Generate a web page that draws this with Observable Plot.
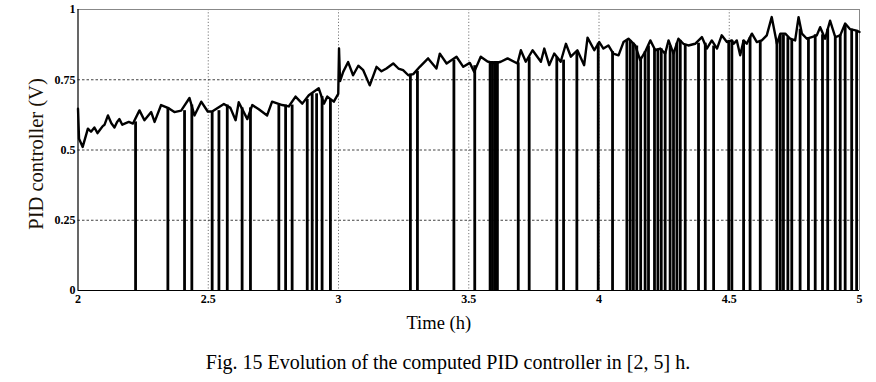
<!DOCTYPE html>
<html>
<head>
<meta charset="utf-8">
<script src="https://cdn.jsdelivr.net/npm/d3@7"></script>
<script src="https://cdn.jsdelivr.net/npm/@observablehq/plot@0.6"></script>
<style>
  html, body { margin: 0; padding: 0; background: #fff; }
  #wrap { position: relative; width: 876px; height: 382px; overflow: hidden; }
  #caption { position: absolute; left: 0; width: 876px; top: 351px; text-align: center;
    font-family: "Liberation Serif", "DejaVu Serif", serif; font-size: 20px; color: #000;
    padding-left: 20px; box-sizing: border-box; line-height: 22px; white-space: nowrap; }
</style>
</head>
<body>
<div id="wrap"><div id="chart"></div><div id="caption">Fig. 15 Evolution of the computed PID controller in [2, 5] h.</div></div>
<script>
// Baseline signal (time in h, value in V)
const baseTime = [2.000, 2.004, 2.018, 2.038, 2.050, 2.063, 2.075, 2.083, 2.095, 2.102, 2.115, 2.128, 2.140, 2.150, 2.159, 2.170, 2.179, 2.195, 2.211, 2.236, 2.255, 2.281, 2.294, 2.319, 2.345, 2.370, 2.396, 2.428, 2.447, 2.473, 2.498,
  2.515, 2.560, 2.585, 2.605, 2.617, 2.650, 2.669, 2.694, 2.726, 2.745, 2.784, 2.809, 2.835, 2.861, 2.886, 2.924, 2.944, 2.957, 2.982, 2.999, 3.002, 3.006,
  3.018, 3.037, 3.056, 3.076, 3.095, 3.120, 3.146, 3.165, 3.184, 3.210, 3.230, 3.248, 3.268, 3.287, 3.312, 3.344, 3.376, 3.389, 3.415, 3.453, 3.479, 3.504,
  3.521, 3.546, 3.572, 3.600, 3.623, 3.649, 3.687, 3.700, 3.719, 3.745, 3.777, 3.790, 3.809, 3.828, 3.853, 3.873, 3.892, 3.917, 3.943, 3.956, 3.982, 4.001,
  4.017, 4.036, 4.055, 4.075, 4.094, 4.113, 4.139, 4.158, 4.177, 4.197, 4.216, 4.235, 4.254, 4.267, 4.286, 4.305, 4.324, 4.343, 4.369, 4.395, 4.414, 4.433, 4.453, 4.471, 4.491, 4.510,
  4.517, 4.529, 4.542, 4.555, 4.567, 4.587, 4.606, 4.625, 4.644, 4.663, 4.683, 4.696, 4.715, 4.734, 4.753, 4.766, 4.779, 4.798, 4.817, 4.836, 4.849, 4.868, 4.887, 4.907, 4.926, 4.945, 4.964, 4.989, 5.000];
const baseValue = [0.647, 0.540, 0.511, 0.576, 0.565, 0.580, 0.560, 0.570, 0.585, 0.590, 0.623, 0.595, 0.580, 0.600, 0.610, 0.590, 0.594, 0.600, 0.594, 0.641, 0.606, 0.635, 0.600, 0.660, 0.650, 0.635, 0.640, 0.685, 0.623, 0.672, 0.637,
  0.637, 0.664, 0.650, 0.606, 0.670, 0.610, 0.660, 0.645, 0.623, 0.672, 0.660, 0.655, 0.690, 0.665, 0.695, 0.720, 0.665, 0.690, 0.672, 0.700, 0.861, 0.745,
  0.778, 0.813, 0.766, 0.800, 0.784, 0.730, 0.796, 0.780, 0.790, 0.808, 0.790, 0.784, 0.766, 0.770, 0.796, 0.826, 0.790, 0.843, 0.808, 0.832, 0.796, 0.810,
  0.778, 0.832, 0.815, 0.808, 0.814, 0.826, 0.808, 0.855, 0.814, 0.855, 0.814, 0.861, 0.802, 0.843, 0.814, 0.878, 0.832, 0.855, 0.802, 0.900, 0.855, 0.884,
  0.861, 0.872, 0.843, 0.837, 0.884, 0.896, 0.872, 0.820, 0.849, 0.890, 0.855, 0.861, 0.843, 0.890, 0.843, 0.896, 0.878, 0.872, 0.878, 0.902, 0.861, 0.890, 0.861, 0.908, 0.884, 0.890,
  0.878, 0.890, 0.837, 0.890, 0.878, 0.914, 0.884, 0.890, 0.908, 0.973, 0.878, 0.914, 0.914, 0.896, 0.890, 0.973, 0.914, 0.896, 0.902, 0.908, 0.937, 0.896, 0.960, 0.902, 0.908, 0.950, 0.930, 0.925, 0.920];

// Brief drops of the controller output to 0 V: time (h) and the level it drops from
const dropTime = [2.221, 2.345, 2.409, 2.437,
  2.515, 2.541, 2.573, 2.630, 2.662, 2.771, 2.797, 2.822, 2.880, 2.899, 2.916, 2.937, 2.969,
  3.276, 3.303, 3.443,
  3.523, 3.582, 3.591, 3.600, 3.610, 3.690, 3.732, 3.838, 3.864, 3.915, 3.997,
  4.052, 4.107, 4.120, 4.132, 4.145, 4.160, 4.177, 4.190, 4.213, 4.226, 4.239, 4.254, 4.273, 4.286, 4.299, 4.312, 4.331, 4.382, 4.408, 4.440, 4.498,
  4.510, 4.555, 4.580, 4.619, 4.683, 4.696, 4.708, 4.725, 4.740, 4.772, 4.804, 4.830, 4.858, 4.878, 4.907, 4.926, 4.945, 4.970, 4.989];
const dropTop = [0.600, 0.650, 0.640, 0.660,
  0.637, 0.640, 0.660, 0.650, 0.650, 0.660, 0.660, 0.660, 0.680, 0.700, 0.700, 0.690, 0.680,
  0.770, 0.780, 0.820,
  0.800, 0.815, 0.815, 0.815, 0.815, 0.810, 0.830, 0.830, 0.820, 0.850, 0.880,
  0.850, 0.890, 0.890, 0.880, 0.870, 0.830, 0.850, 0.870, 0.860, 0.860, 0.860, 0.850, 0.870, 0.850, 0.880, 0.890, 0.875, 0.880, 0.880, 0.870, 0.890,
  0.890, 0.890, 0.900, 0.890, 0.890, 0.910, 0.910, 0.900, 0.890, 0.930, 0.900, 0.910, 0.910, 0.930, 0.900, 0.910, 0.940, 0.930, 0.925];

const xTicks = [2, 2.5, 3, 3.5, 4, 4.5, 5];
const xTickLabels = ["2", "2.5", "3", "3.5", "4", "4.5", "5"];
const yTicks = [0, 0.25, 0.5, 0.75, 1];
const yTickLabels = ["0", "0.25", "0.5", "0.75", "1"];
const xLabel = "Time (h)";
const yLabel = "PID controller (V)";

const base = baseTime.map((t, i) => ({t, v: baseValue[i]}));
const drops = dropTime.map((t, i) => ({t, v: dropTop[i]}));

const serif = "Liberation Serif, DejaVu Serif, serif";

const chart = Plot.plot({
  width: 876,
  height: 345,
  marginLeft: 77.5,
  marginRight: 17,
  marginTop: 9,
  marginBottom: 55,
  style: {fontFamily: serif, background: "#fff", overflow: "visible"},
  x: {domain: [2, 5]},
  y: {domain: [0, 1]},
  marks: [
    Plot.gridX([2.5, 3, 3.5, 4, 4.5], {stroke: "#555", strokeOpacity: 1, strokeWidth: 0.8, strokeDasharray: "1.2,2"}),
    Plot.gridY([0.25, 0.5, 0.75], {stroke: "#111", strokeOpacity: 1, strokeWidth: 0.8, strokeDasharray: "2.5,2"}),
    Plot.ruleY([1], {stroke: "#888", strokeWidth: 1}),
    Plot.ruleX([5], {stroke: "#888", strokeWidth: 1}),
    Plot.ruleX(drops, {x: "t", y1: 0, y2: "v", stroke: "#000", strokeWidth: 2.8}),
    Plot.line(base, {x: "t", y: "v", stroke: "#000", strokeWidth: 2.4, strokeLinejoin: "round"}),
    Plot.ruleX([2], {stroke: "#000", strokeWidth: 1.2}),
    Plot.ruleY([0], {stroke: "#000", strokeWidth: 1.2}),
    Plot.axisX(xTicks, {tickSize: 0, tickPadding: 4, tickFormat: (d, i) => xTickLabels[i], fontWeight: "bold", fontSize: 12, fill: "#000", label: null}),
    Plot.axisY(yTicks, {tickSize: 0, tickPadding: 2.5, tickFormat: (d, i) => yTickLabels[i], fontWeight: "bold", fontSize: 12, fill: "#000", label: null}),
    Plot.text([xLabel], {frameAnchor: "bottom", textAnchor: "middle", lineAnchor: "middle", dx: -30, dy: 33, fontSize: 18.5, fill: "#000", fontFamily: serif}),
    Plot.text([yLabel], {frameAnchor: "left", textAnchor: "middle", lineAnchor: "middle", rotate: -90, dx: -42, dy: 4, fontSize: 20.5, fill: "#1a1208", fontFamily: serif})
  ]
});
document.getElementById("chart").appendChild(chart);
</script>
</body>
</html>
